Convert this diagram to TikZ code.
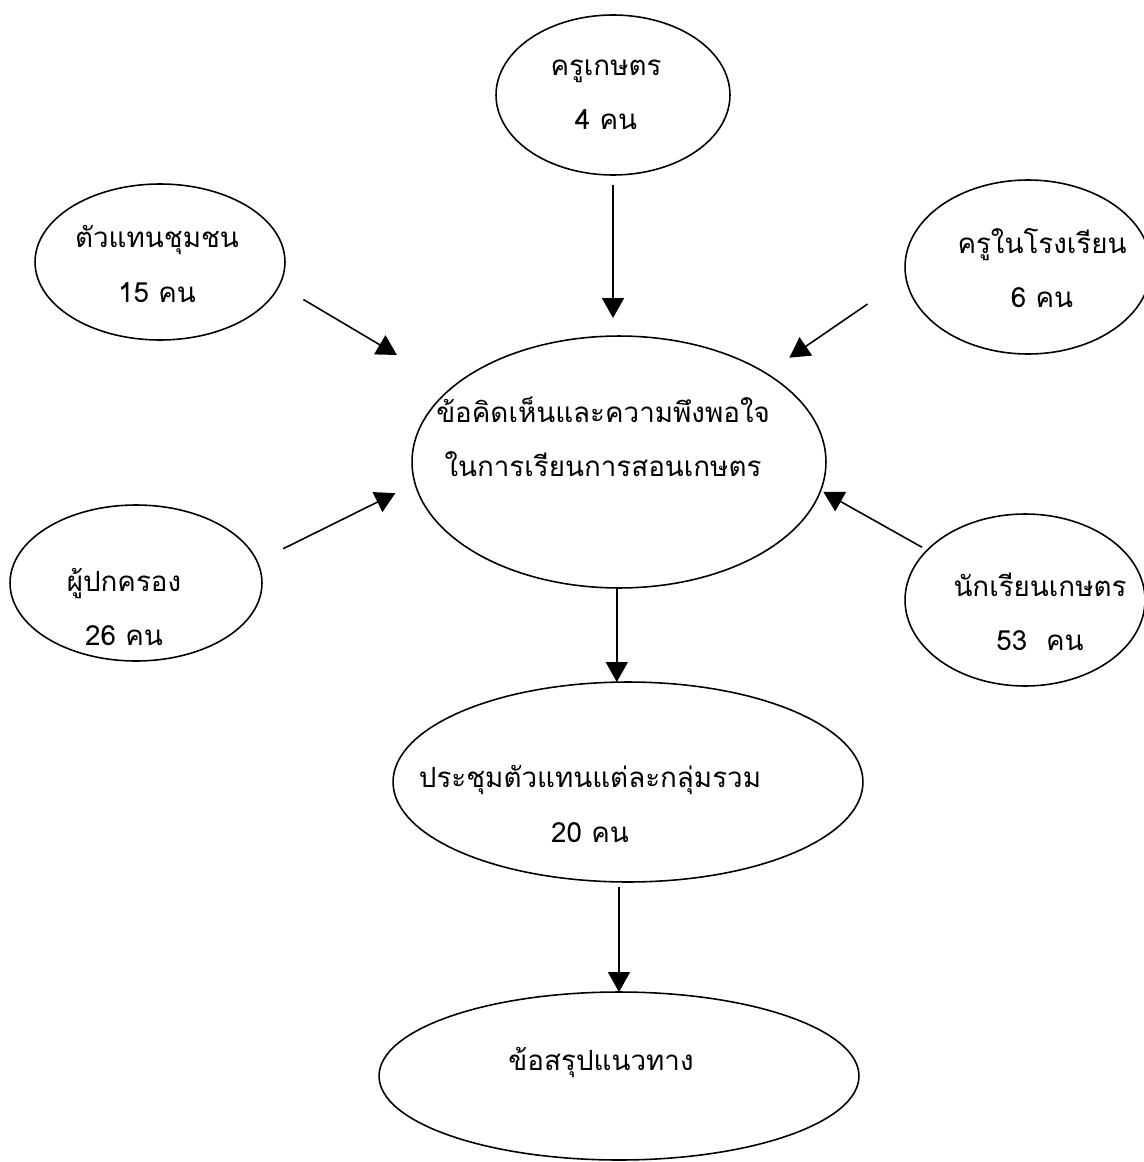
\documentclass[tikz,border=0pt]{standalone}
\usepackage{fontspec}
\newfontfamily\thaifont[Script=Thai]{Loma}
\usetikzlibrary{shapes.geometric,arrows.meta}
\tikzset{
  blob/.style={draw,ellipse,line width=0.9pt,inner sep=0pt,outer sep=0pt},
  txt/.style={font=\thaifont\fontsize{15.8}{31}\selectfont,align=center,inner sep=0pt},
  arr/.style={line width=0.9pt,-{Triangle[length=0.4cm,width=0.44cm]}}
}

\begin{document}
\begin{tikzpicture}[x=0.02cm,y=-0.02cm]
     \useasboundingbox (0,0) rectangle (1143,1162);
     \node[blob,minimum width=4.68cm,minimum height=3.20cm] (kru)  at ( 613,  95) {};
     \node[blob,minimum width=5.00cm,minimum height=3.12cm] (chum) at ( 160, 262) {};
     \node[blob,minimum width=4.92cm,minimum height=3.48cm] (rr)   at (1028, 267) {};
     \node[blob,minimum width=8.28cm,minimum height=5.04cm] (ctr)  at ( 619, 462) {};
     \node[blob,minimum width=5.04cm,minimum height=3.12cm] (pk)   at ( 136, 583) {};
     \node[blob,minimum width=4.80cm,minimum height=3.44cm] (nr)   at (1025, 600) {};
     \node[blob,minimum width=9.40cm,minimum height=4.00cm] (meet) at ( 628, 782) {};
     \node[blob,minimum width=9.60cm,minimum height=3.36cm] (sum)  at ( 619,1076) {};
     \node[txt] (kru-t)  at ( 606,  95) {ครูเกษตร\\4 คน};
     \node[txt] (chum-t) at ( 157, 264) {ตัวแทนชุมชน\\15 คน};
     \node[txt] (rr-t)   at (1042, 268) {ครูในโรงเรียน\\6 คน};
     \node[txt] (ctr-t)  at ( 603, 437) {ข้อคิดเห็นและความพึงพอใจ\\ในการเรียนการสอนเกษตร};
     \node[txt] (pk-t)   at ( 124, 607) {ผู้ปกครอง\\26 คน};
     \node[txt] (nr-t)   at (1040, 612) {นักเรียนเกษตร\\53 \ คน};
     \node[txt] (meet-t) at ( 590, 804) {ประชุมตัวแทนแต่ละกลุ่มรวม\\20 คน};
     \node[txt] (sum-t)  at ( 601,1063) {ข้อสรุปแนวทาง};
     \draw[arr,shorten <=0.20cm,shorten >=0.36cm] (kru.south) -- (kru.south |- ctr.north);
     \draw[arr,shorten <=0.56cm,shorten >=1.28cm] (chum.-11.4) -- (ctr.156.1);
     \draw[arr,shorten <=0.93cm,shorten >=0.56cm] (rr.-175.5) -- (ctr.31.3);
     \draw[arr,shorten <=0.58cm,shorten >=0.44cm] (pk.10.5) -- (ctr.-174);
     \draw[arr,shorten <=0.12cm,shorten >=0.06cm] (nr.153.9) -- (ctr.-8.4);
     \draw[arr] (ctr.-91) -- (ctr.-91 |- meet.north);
     \draw[arr,shorten <=0.10cm] (sum.-90.5 |- meet.south) -- (sum.north -| sum.-90.5);
\end{tikzpicture}
\end{document}
